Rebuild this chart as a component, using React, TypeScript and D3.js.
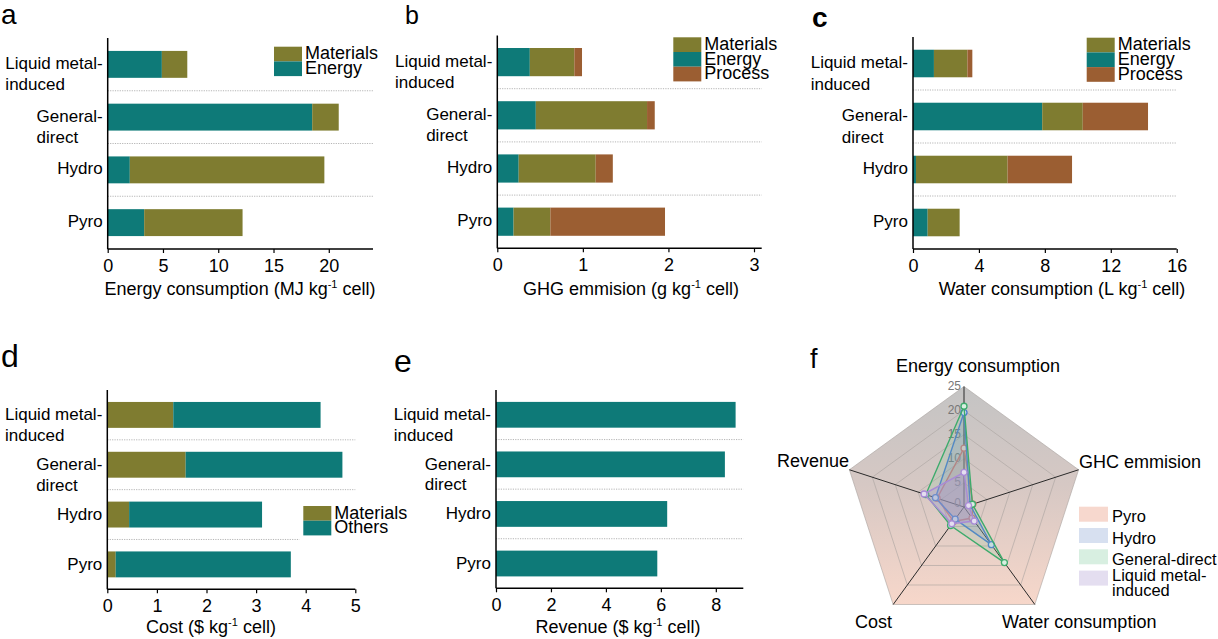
import React, { useEffect, useRef } from 'react';
import * as d3 from 'd3';

const categories = ['Liquid metal-induced', 'General-direct', 'Hydro', 'Pyro'];
const categoryLines = [['Liquid metal-', 'induced'], ['General-', 'direct'], ['Hydro'], ['Pyro']];

// a: energy consumption (MJ/kg cell)
const energyEnergy = [4.9, 18.5, 2.0, 3.3];
const energyMaterials = [2.3, 2.4, 17.6, 8.9];
const energyTicks = [0, 5, 10, 15, 20];

// b: GHG emission (g/kg cell)
const ghgEnergy = [0.38, 0.45, 0.25, 0.19];
const ghgMaterials = [0.52, 1.3, 0.9, 0.43];
const ghgProcess = [0.09, 0.09, 0.2, 1.34];
const ghgTicks = [0, 1, 2, 3];

// c: water consumption (L/kg cell)
const waterEnergy = [1.27, 7.84, 0.18, 0.89];
const waterMaterials = [2.03, 2.46, 5.56, 1.94];
const waterProcess = [0.3, 3.96, 3.91, 0];
const waterTicks = [0, 4, 8, 12, 16];

// d: cost ($/kg cell)
const costMaterials = [1.33, 1.58, 0.44, 0.17];
const costOthers = [2.97, 3.16, 2.68, 3.53];
const costTicks = [0, 1, 2, 3, 4, 5];

// e: revenue ($/kg cell)
const revenue = [8.72, 8.33, 6.23, 5.87];
const revenueTicks = [0, 2, 4, 6, 8];

// f: radar
const radarAxes = ['Energy consumption', 'GHC emmision', 'Water consumption', 'Cost', 'Revenue'];
const radarLevels = [0, 5, 10, 15, 20, 25];
const radarSeries = ['Pyro', 'Hydro', 'General-direct', 'Liquid metal-induced'];

const C_ENERGY = '#0e7a78';
const C_MAT = '#7f7c30';
const C_PROC = '#9b5e32';
const FONT = '"Liberation Sans", Arial, Helvetica, sans-serif';

interface Series {
  values: number[];
  color: string;
}

interface PanelCfg {
  left: number;
  right: number;
  top: number;
  bottom: number;
  max: number;
  ticks: number[];
  series: Series[];
  legend: { name: string; color: string }[];
  legendX: number;
  legendY: number;
  legendBg?: boolean;
  title: [string, string];
  titleX: number;
  titleY: number;
  sepEnds: number[];
  labelDy: number;
  lineGap: number;
  padding: number;
}

const sum = (arrs: number[][], i: number) => arrs.reduce((s, a) => s + a[i], 0);

const drawBarPanel = (svg: d3.Selection<SVGSVGElement, unknown, null, undefined>, cfg: PanelCfg) => {
  const g = svg.append('g');
  const x = d3.scaleLinear().domain([0, cfg.max]).range([cfg.left, cfg.right]);
  const y = d3
    .scaleBand()
    .domain(categories)
    .range([cfg.top, cfg.bottom])
    .paddingInner(cfg.padding)
    .paddingOuter(cfg.padding / 2);

  // dotted separators
  categories.slice(0, 3).forEach((c, i) => {
    const yy = (y(c) || 0) + y.bandwidth() / 2 + y.step() / 2;
    g.append('line')
      .attr('x1', cfg.left)
      .attr('x2', cfg.sepEnds[i])
      .attr('y1', yy)
      .attr('y2', yy)
      .attr('stroke', '#b5b5b5')
      .attr('stroke-width', 1)
      .attr('stroke-dasharray', '1.2,1.2');
  });

  // stacked bars
  categories.forEach((c, i) => {
    let acc = 0;
    cfg.series.forEach((s) => {
      const v = s.values[i];
      if (v > 0) {
        g.append('rect')
          .attr('x', x(acc))
          .attr('y', y(c) || 0)
          .attr('width', x(acc + v) - x(acc))
          .attr('height', y.bandwidth())
          .attr('fill', s.color);
      }
      acc += v;
    });
  });

  // x axis
  const axisG = g.append('g').attr('transform', `translate(0, ${cfg.bottom})`);
  axisG.call(
    d3
      .axisBottom(x)
      .tickValues(cfg.ticks)
      .tickFormat((d) => String(d))
      .tickSize(4)
      .tickPadding(6)
      .tickSizeOuter(0),
  );
  axisG.select('.domain').remove();
  axisG.selectAll('.tick line').attr('stroke', '#000').attr('stroke-width', 1.2);
  axisG.selectAll('text').attr('font-size', 18).attr('font-family', FONT).attr('fill', '#000');

  g.append('line')
    .attr('x1', cfg.left)
    .attr('x2', cfg.right)
    .attr('y1', cfg.bottom)
    .attr('y2', cfg.bottom)
    .attr('stroke', '#000')
    .attr('stroke-width', 1.5);
  g.append('line')
    .attr('x1', cfg.left)
    .attr('x2', cfg.left)
    .attr('y1', cfg.top)
    .attr('y2', cfg.bottom)
    .attr('stroke', '#000')
    .attr('stroke-width', 1.5);

  // category labels
  categories.forEach((c, i) => {
    const cy = (y(c) || 0) + y.bandwidth() / 2 + cfg.labelDy;
    const lines = categoryLines[i];
    const first = g
      .append('text')
      .attr('x', cfg.left - 5)
      .attr('y', cy)
      .attr('text-anchor', 'end')
      .attr('font-size', 17)
      .attr('font-family', FONT)
      .text(lines[0]);
    if (lines.length > 1) {
      const w = (first.node() as SVGTextElement).getComputedTextLength();
      g.append('text')
        .attr('x', cfg.left - 5 - w)
        .attr('y', cy + cfg.lineGap)
        .attr('font-size', 17)
        .attr('font-family', FONT)
        .text(lines[1]);
    }
  });

  // legend
  if (cfg.legendBg) {
    g.append('rect')
      .attr('x', cfg.legendX - 4)
      .attr('y', cfg.legendY - 4)
      .attr('width', 110)
      .attr('height', cfg.legend.length * 14 + 10)
      .attr('fill', '#fff');
  }
  cfg.legend.forEach((item, i) => {
    const ly = cfg.legendY + i * 14.7;
    g.append('rect')
      .attr('x', cfg.legendX)
      .attr('y', ly)
      .attr('width', 28)
      .attr('height', 14.7)
      .attr('fill', item.color);
    g.append('text')
      .attr('x', cfg.legendX + 31)
      .attr('y', ly + 12.5)
      .attr('font-size', 18)
      .attr('font-family', FONT)
      .text(item.name);
  });

  // axis title with superscript
  const t = g
    .append('text')
    .attr('x', cfg.titleX)
    .attr('y', cfg.titleY)
    .attr('text-anchor', 'middle')
    .attr('font-size', 18)
    .attr('font-family', FONT);
  t.append('tspan').text(cfg.title[0]);
  t.append('tspan').attr('dy', -7).attr('font-size', 11).text('-1');
  t.append('tspan').attr('dy', 7).text(cfg.title[1]);
};

const drawRadar = (svg: d3.Selection<SVGSVGElement, unknown, null, undefined>) => {
  const cx = 964;
  const cy = 507;
  const R = 120.5;
  const r = d3.scaleLinear().domain([0, 25]).range([0, R]);
  const ang = (i: number) => ((-90 + 72 * i) * Math.PI) / 180;
  const pt = (i: number, v: number): [number, number] => [cx + r(v) * Math.cos(ang(i)), cy + r(v) * Math.sin(ang(i))];

  const defs = svg.append('defs');
  const grad = defs
    .append('linearGradient')
    .attr('id', 'radarBg')
    .attr('gradientUnits', 'userSpaceOnUse')
    .attr('x1', 0)
    .attr('x2', 0)
    .attr('y1', cy - R)
    .attr('y2', cy + R * 0.81);
  grad.append('stop').attr('offset', '0').attr('stop-color', '#c4c4c4');
  grad.append('stop').attr('offset', '0.45').attr('stop-color', '#d6c8c4');
  grad.append('stop').attr('offset', '1').attr('stop-color', '#f7d7ca');

  const g = svg.append('g');
  const ring = (v: number) => radarAxes.map((_, i) => pt(i, v));
  const line = d3.line().curve(d3.curveLinearClosed);

  g.append('path').attr('d', line(ring(25))).attr('fill', 'url(#radarBg)');
  radarLevels.slice(1).forEach((lv) => {
    g.append('path')
      .attr('d', line(ring(lv)))
      .attr('fill', 'none')
      .attr('stroke', '#aaa3a0')
      .attr('stroke-width', 0.6);
  });
  radarAxes.forEach((_, i) => {
    const [x2, y2] = pt(i, 25);
    g.append('line')
      .attr('x1', cx)
      .attr('y1', cy)
      .attr('x2', x2)
      .attr('y2', y2)
      .attr('stroke', '#2a2a2a')
      .attr('stroke-width', 1);
  });

  radarLevels.forEach((lv) => {
    g.append('text')
      .attr('x', cx - 3)
      .attr('y', cy - r(lv) - (lv === 0 ? 3 : 0))
      .attr('text-anchor', 'end')
      .attr('dominant-baseline', 'middle')
      .attr('font-size', 12)
      .attr('font-family', FONT)
      .attr('fill', '#777')
      .text(lv);
  });

  const idx = [3, 2, 1, 0];
  const strokes = ['#d8736d', '#4b7ccf', '#3dab6c', '#a98bd6'];
  const fills = ['rgba(235,150,140,0.22)', 'rgba(110,140,205,0.22)', 'rgba(120,200,150,0.18)', 'rgba(170,145,215,0.3)'];
  const swatches = ['#f7d8ce', '#d7e0f0', '#d8efe1', '#e4def0'];

  idx.forEach((ci, si) => {
    const vals = [
      energyEnergy[ci] + energyMaterials[ci],
      sum([ghgEnergy, ghgMaterials, ghgProcess], ci),
      sum([waterEnergy, waterMaterials, waterProcess], ci),
      costMaterials[ci] + costOthers[ci],
      revenue[ci],
    ];
    const pts = vals.map((v, i) => pt(i, v));
    g.append('path')
      .attr('d', line(pts))
      .attr('fill', fills[si])
      .attr('stroke', strokes[si])
      .attr('stroke-width', 1.4);
    pts.forEach(([px, py]) => {
      g.append('circle')
        .attr('cx', px)
        .attr('cy', py)
        .attr('r', 3)
        .attr('fill', swatches[si])
        .attr('stroke', strokes[si])
        .attr('stroke-width', 1.3);
    });
  });

  const labelPos: [number, number, string][] = [
    [978, 372, 'middle'],
    [1079, 468, 'start'],
    [1002, 628, 'start'],
    [855, 628, 'start'],
    [849, 467, 'end'],
  ];
  radarAxes.forEach((a, i) => {
    g.append('text')
      .attr('x', labelPos[i][0])
      .attr('y', labelPos[i][1])
      .attr('text-anchor', labelPos[i][2])
      .attr('font-size', 18)
      .attr('font-family', FONT)
      .text(a);
  });

  // legend
  radarSeries.forEach((s, i) => {
    const ly = 506.7 + i * 21.3;
    g.append('rect').attr('x', 1079).attr('y', ly).attr('width', 29).attr('height', 15).attr('fill', swatches[i]);
    if (i < 3) {
      g.append('text')
        .attr('x', 1112)
        .attr('y', ly + 15.5)
        .attr('font-size', 16.5)
        .attr('font-family', FONT)
        .text(s);
    } else {
      const t = g.append('text').attr('font-size', 16.5).attr('font-family', FONT);
      t.append('tspan').attr('x', 1112).attr('y', ly + 10).text('Liquid metal-');
      t.append('tspan').attr('x', 1112).attr('y', ly + 25).text('induced');
    }
  });
};

const letter = (svg: d3.Selection<SVGSVGElement, unknown, null, undefined>, x: number, y: number, s: string, size: number, bold = false) => {
  svg
    .append('text')
    .attr('x', x)
    .attr('y', y)
    .attr('font-size', size)
    .attr('font-weight', bold ? 'bold' : 'normal')
    .attr('font-family', FONT)
    .text(s);
};

const App: React.FC = () => {
  const ref = useRef<SVGSVGElement>(null);

  useEffect(() => {
    if (!ref.current) return;
    const svg = d3.select(ref.current);
    svg.selectAll('*').remove();

    drawBarPanel(svg, {
      left: 107.7,
      right: 373,
      top: 38,
      bottom: 249,
      max: 24,
      ticks: energyTicks,
      series: [
        { values: energyEnergy, color: C_ENERGY },
        { values: energyMaterials, color: C_MAT },
      ],
      legend: [
        { name: 'Materials', color: C_MAT },
        { name: 'Energy', color: C_ENERGY },
      ],
      legendX: 274,
      legendY: 46.7,
      title: ['Energy consumption (MJ kg', ' cell)'],
      titleX: 240,
      titleY: 295,
      sepEnds: [373, 373, 373],
      labelDy: 4.5,
      lineGap: 21.5,
      padding: 0.49,
    });

    drawBarPanel(svg, {
      left: 497.3,
      right: 761.7,
      top: 35.5,
      bottom: 248.3,
      max: 3.09,
      ticks: ghgTicks,
      series: [
        { values: ghgEnergy, color: C_ENERGY },
        { values: ghgMaterials, color: C_MAT },
        { values: ghgProcess, color: C_PROC },
      ],
      legend: [
        { name: 'Materials', color: C_MAT },
        { name: 'Energy', color: C_ENERGY },
        { name: 'Process', color: C_PROC },
      ],
      legendX: 673.3,
      legendY: 37.3,
      title: ['GHG emmision (g kg', ' cell)'],
      titleX: 631,
      titleY: 295,
      sepEnds: [761.7, 761.7, 761.7],
      labelDy: 4.5,
      lineGap: 21.5,
      padding: 0.47,
    });

    drawBarPanel(svg, {
      left: 913,
      right: 1176.7,
      top: 37,
      bottom: 249,
      max: 16,
      ticks: waterTicks,
      series: [
        { values: waterEnergy, color: C_ENERGY },
        { values: waterMaterials, color: C_MAT },
        { values: waterProcess, color: C_PROC },
      ],
      legend: [
        { name: 'Materials', color: C_MAT },
        { name: 'Energy', color: C_ENERGY },
        { name: 'Process', color: C_PROC },
      ],
      legendX: 1086.7,
      legendY: 37.7,
      title: ['Water consumption (L kg', ' cell)'],
      titleX: 1062,
      titleY: 295,
      sepEnds: [1176.7, 1176.7, 1176.7],
      labelDy: 4.5,
      lineGap: 21.5,
      padding: 0.48,
    });

    drawBarPanel(svg, {
      left: 107.3,
      right: 355.3,
      top: 390,
      bottom: 589.3,
      max: 5,
      ticks: costTicks,
      series: [
        { values: costMaterials, color: C_MAT },
        { values: costOthers, color: C_ENERGY },
      ],
      legend: [
        { name: 'Materials', color: C_MAT },
        { name: 'Others', color: C_ENERGY },
      ],
      legendX: 303.3,
      legendY: 506,
      legendBg: true,
      title: ['Cost ($ kg', ' cell)'],
      titleX: 211,
      titleY: 632.5,
      sepEnds: [355.3, 355.3, 355.3],
      labelDy: 5.5,
      lineGap: 20.5,
      padding: 0.48,
    });

    drawBarPanel(svg, {
      left: 496,
      right: 743.3,
      top: 390,
      bottom: 588.3,
      max: 9,
      ticks: revenueTicks,
      series: [{ values: revenue, color: C_ENERGY }],
      legend: [],
      legendX: 0,
      legendY: 0,
      title: ['Revenue ($ kg', ' cell)'],
      titleX: 618,
      titleY: 632.5,
      sepEnds: [743.3, 743.3, 743.3],
      labelDy: 5.5,
      lineGap: 20.5,
      padding: 0.48,
    });

    drawRadar(svg);

    letter(svg, 1, 24, 'a', 28);
    letter(svg, 405, 23.5, 'b', 25);
    letter(svg, 812, 27, 'c', 28, true);
    letter(svg, 1, 366.5, 'd', 32);
    letter(svg, 394, 372, 'e', 32);
    letter(svg, 810, 368, 'f', 27);
  }, []);

  return (
    <div style={{ position: 'absolute', left: 0, top: 0 }}>
      <svg ref={ref} width={1218} height={639} style={{ display: 'block', background: '#fff' }} />
    </div>
  );
};

export default App;
